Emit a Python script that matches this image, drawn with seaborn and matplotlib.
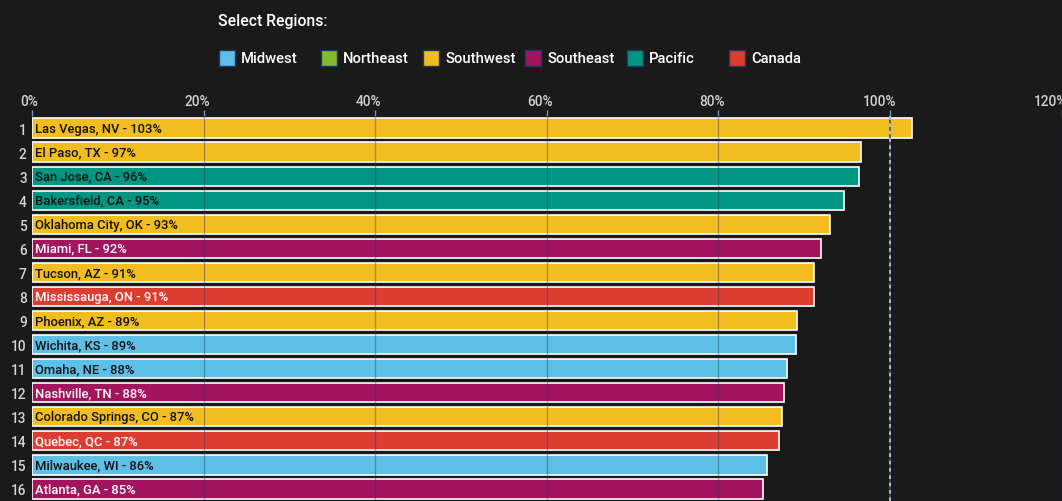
import pandas as pd
import seaborn as sns
import matplotlib.pyplot as plt
from matplotlib.patches import Rectangle
from matplotlib.transforms import ScaledTranslation

# data
cities = ["Las Vegas, NV", "El Paso, TX", "San Jose, CA", "Bakersfield, CA",
          "Oklahoma City, OK", "Miami, FL", "Tucson, AZ", "Mississauga, ON",
          "Phoenix, AZ", "Wichita, KS", "Omaha, NE", "Nashville, TN",
          "Colorado Springs, CO", "Quebec, QC", "Milwaukee, WI", "Atlanta, GA"]
regions = ["Southwest", "Southwest", "Pacific", "Pacific",
           "Southwest", "Southeast", "Southwest", "Canada",
           "Southwest", "Midwest", "Midwest", "Southeast",
           "Southwest", "Canada", "Midwest", "Southeast"]
pct = [102.6, 96.6, 96.4, 94.6, 93.0, 92.0, 91.2, 91.1,
       89.2, 89.1, 88.0, 87.7, 87.4, 87.1, 85.7, 85.2]
ranks = [str(i) for i in range(1, 17)]

legend_regions = ["Midwest", "Northeast", "Southwest", "Southeast", "Pacific", "Canada"]
region_colors = {
    "Midwest": "#5ec0e6",
    "Northeast": "#80bb31",
    "Southwest": "#f2bd1e",
    "Southeast": "#a3145f",
    "Pacific": "#009683",
    "Canada": "#dc3d31",
}
white_text = {"Southeast", "Canada"}
x_ticks = [0, 20, 40, 60, 80, 100, 120]

df = pd.DataFrame({"city": cities, "region": regions, "pct": pct})

bg = "#1a1a1a"
plt.rcParams["font.family"] = ["Roboto", "DejaVu Sans"]

fig = plt.figure(figsize=(10.62, 5.02), dpi=100, facecolor=bg)
ax = fig.add_axes([32.3 / 1062, 0.3 / 502, 1029.2 / 1062, 384.4 / 502])
ax.set_facecolor(bg)

sns.barplot(data=df, x="pct", y="city", hue="region", order=cities,
            palette=region_colors, saturation=1, dodge=False, width=0.82,
            edgecolor="white", linewidth=1.2, legend=False, ax=ax, zorder=2)

ax.set_xlim(0, 120)
ax.set_ylim(15.5, -0.5)
for s in ax.spines.values():
    s.set_visible(False)

# grid lines drawn over the bars
for t in x_ticks:
    if t in (0, 100):
        continue
    ax.axvline(t, color="#2a3a60", lw=1, alpha=0.4, zorder=3)
ax.axvline(100, color="#3a4a70", lw=1.2, zorder=3)
ax.axvline(100, color="#c4d0ea", lw=1.2, ls=(0, (2.2, 2.2)), zorder=4)

# x axis on top
ax.xaxis.tick_top()
ax.set_xticks(x_ticks)
ax.set_xticklabels([f"{t}%" for t in x_ticks])
ax.tick_params(axis="x", colors="#8090b0", length=4, width=1, pad=2,
               labelsize=9.8, labelcolor="#cfcfcf")
offset = ScaledTranslation(6 / 100, 0, fig.dpi_scale_trans)
for lab in ax.get_xticklabels():
    lab.set_horizontalalignment("right")
    lab.set_transform(lab.get_transform() + offset)
    lab.set_fontweight("medium")
ax.set_xlabel("")

# rank numbers on the left
ax.set_yticks(range(len(cities)))
ax.set_yticklabels(ranks)
ax.tick_params(axis="y", length=0, pad=4, labelsize=9.8, labelcolor="#d4d4d4")
for lab in ax.get_yticklabels():
    lab.set_fontweight("medium")
ax.set_ylabel("")

# labels inside bars
for i, (c, r, v) in enumerate(zip(cities, regions, pct)):
    ax.annotate(f"{c} - {round(v)}%", xy=(0, i), xytext=(3, 0),
                textcoords="offset pixels", ha="left", va="center",
                fontsize=9.4, fontweight="medium", zorder=5,
                color="white" if r in white_text else "#111111")

# legend block
fig.text(218.3 / 1062, 1 - 21.5 / 502, "Select Regions:", color="white",
         fontsize=11.3, fontweight="medium", ha="left", va="center")
for i, reg in enumerate(legend_regions):
    x0 = 218.5 + 102 * i
    fig.add_artist(Rectangle((x0 / 1062, 1 - 67 / 502), 16 / 1062, 16 / 502,
                             transform=fig.transFigure, facecolor=region_colors[reg],
                             edgecolor="#1f3766", lw=1))
    fig.text((x0 + 22.5) / 1062, 1 - 59 / 502, reg, color="white",
             fontsize=10.6, fontweight="medium", ha="left", va="center")

fig.savefig("out.png", dpi=100, facecolor=bg)
